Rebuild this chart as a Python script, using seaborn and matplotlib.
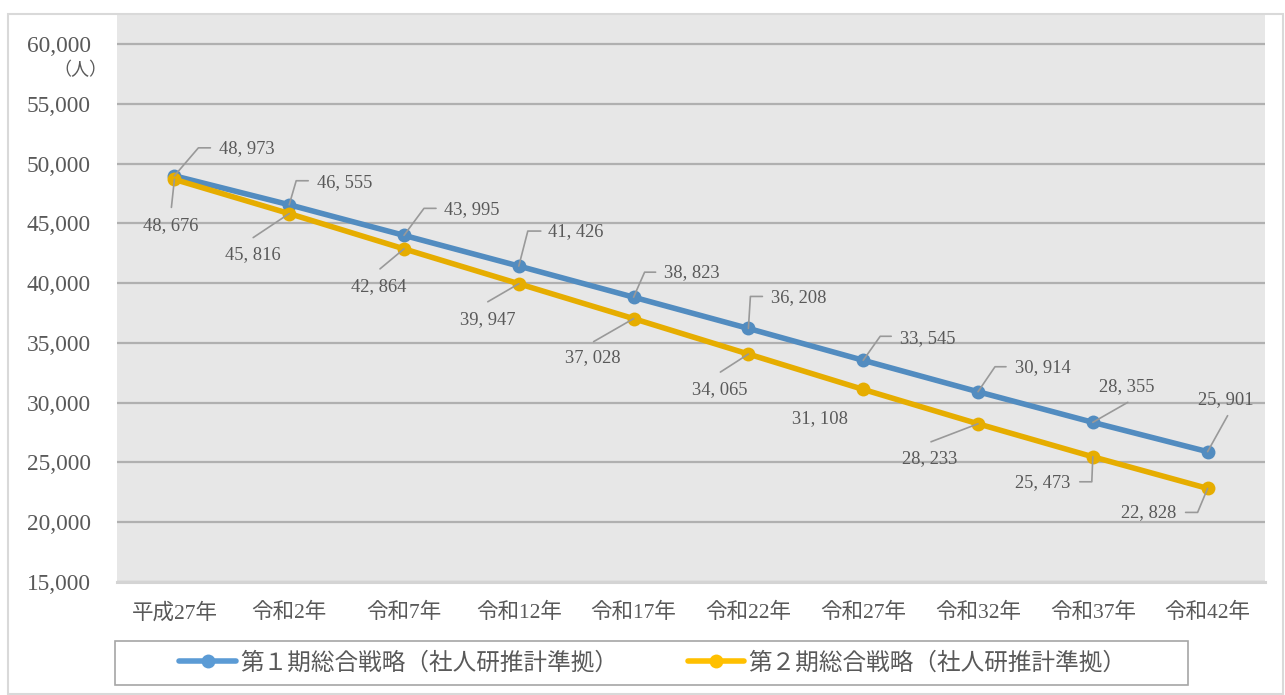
import matplotlib
matplotlib.use("Agg")
import matplotlib.pyplot as plt
from matplotlib.lines import Line2D
from matplotlib.patches import Rectangle
from matplotlib.transforms import IdentityTransform
import numpy as np
import pandas as pd
import seaborn as sns

# ---- data -------------------------------------------------------------
years = ['平成27年', '令和2年', '令和7年', '令和12年', '令和17年',
         '令和22年', '令和27年', '令和32年', '令和37年', '令和42年']
series_names = ['第１期総合戦略（社人研推計準拠）', '第２期総合戦略（社人研推計準拠）']
pop_first = [48973, 46555, 43995, 41426, 38823, 36208, 33545, 30914, 28355, 25901]
pop_second = [48676, 45816, 42864, 39947, 37028, 34065, 31108, 28233, 25473, 22828]
y_ticks = [15000, 20000, 25000, 30000, 35000, 40000, 45000, 50000, 55000, 60000]
unit_label = '（人）'

# ---- label placement (pixel offsets from each point, y pointing down) --
label_offsets_first = [(72, -27), (55, -22), (68, -26), (57, -34), (58, -25),
                       (50, -31), (65, -22), (65, -24), (34, -36), (18, -52)]
leaders_first = [[(0, 0), (24, -28), (36, -28)],
                 [(0, 0), (7, -24), (19, -24)],
                 [(0, 0), (20, -27), (32, -27)],
                 [(0, 0), (9, -35), (22, -35)],
                 [(0, 0), (11, -25), (22, -25)],
                 [(0, 0), (2, -32), (14, -32)],
                 [(0, 0), (17, -24), (28, -24)],
                 [(0, 0), (17, -25), (28, -25)],
                 [(0, 0), (35, -20)],
                 [(0, 0), (20, -36)]]
label_offsets_second = [(-4, 46), (-36, 41), (-25, 38), (-31, 36), (-41, 39),
                        (-29, 36), (-43, 29), (-48, 35), (-50, 26), (-59, 24)]
leaders_second = [[(0, 0), (-3, 28)],
                  [(0, 0), (-36, 24)],
                  [(0, 0), (-24, 20)],
                  [(0, 0), (-31, 18)],
                  [(0, 0), (-40, 23)],
                  [(0, 0), (-28, 18)],
                  None,
                  [(0, 0), (-47, 18)],
                  [(0, 0), (-1, 25), (-13, 25)],
                  [(0, 0), (-10, 24), (-22, 24)]]

# ---- style --------------------------------------------------------------
sns.set_style("white")
plt.rcParams['font.family'] = ['Liberation Serif', 'Noto Sans CJK JP', 'DejaVu Sans']
text_color = '#595959'
line_colors = ['#528cc0', '#e6ad00']      # lines seen through the shaded plot area
legend_colors = ['#5b9bd5', '#ffc000']

W, H = 1285, 695
fig = plt.figure(figsize=(W / 100, H / 100), dpi=100)
ax = fig.add_axes([117 / W, 1 - 582 / H, (1265 - 117) / W, (582 - 15) / H])
ax.set_facecolor('#e7e7e7')

df = pd.DataFrame({
    '年': years * 2,
    '人口': pop_first + pop_second,
    '系列': [series_names[0]] * len(years) + [series_names[1]] * len(years),
})

sns.lineplot(data=df, x='年', y='人口', hue='系列', palette=line_colors,
             marker='o', markersize=10, markeredgewidth=0, linewidth=4,
             sort=False, legend=False, ax=ax, zorder=3)

ax.set_xlim(-0.5, len(years) - 0.5)
ax.set_ylim(15000, 62426)
ax.set_xlabel('')
ax.set_ylabel('')

# y axis
ax.set_yticks(y_ticks)
ax.set_yticklabels([f'{v:,}' for v in y_ticks], fontsize=16.8, color=text_color)
ax.yaxis.grid(True, color='#b0b0b0', linewidth=1.6)
ax.set_axisbelow(True)
ax.tick_params(axis='y', length=0, pad=19)

# x axis: labels at category centres, marks at category boundaries
ax.set_xticks(range(len(years)))
ax.set_xticklabels(years, fontsize=15.5, color=text_color)
ax.set_xticks(np.arange(-0.5, len(years), 1.0), minor=True)
ax.tick_params(axis='x', which='major', length=0, pad=15)
ax.tick_params(axis='x', which='minor', length=6, width=1.5, color='#d4d4d4')
ax.xaxis.grid(False)

for side in ['left', 'right', 'top']:
    ax.spines[side].set_visible(False)
ax.spines['bottom'].set_color('#d4d4d4')
ax.spines['bottom'].set_linewidth(2.2)


def draw_leader(x, y, verts):
    px, py = ax.transData.transform((x, y))
    xs = [px + dx for dx, dy in verts]
    ys = [py - dy for dx, dy in verts]
    ax.add_artist(Line2D(xs, ys, transform=IdentityTransform(),
                         color='#999999', linewidth=1.2, zorder=5))


def fmt(v):
    return f'{v:,}'.replace(',', ', ')


for values, offsets, leaders in [(pop_first, label_offsets_first, leaders_first),
                                 (pop_second, label_offsets_second, leaders_second)]:
    for i, v in enumerate(values):
        dx, dy = offsets[i]
        ax.annotate(fmt(v), xy=(i, v), xytext=(dx, -dy), textcoords='offset pixels',
                    ha='center', va='center', fontsize=13.3, color=text_color, zorder=6)
        if leaders[i] is not None:
            draw_leader(i, v, leaders[i])

# unit label above the y axis
fig.text(80 / W, 1 - 70 / H, unit_label, ha='center', va='center',
         fontsize=13, color=text_color)

# legend
handles = [Line2D([], [], color=c, linewidth=4, marker='o', markersize=10,
                  markeredgewidth=0) for c in legend_colors]
leg = fig.legend(handles, series_names, loc='center', ncol=2,
                 bbox_to_anchor=(653 / W, 1 - 663 / H), frameon=False,
                 fontsize=17, handlelength=2.4, handletextpad=0.17,
                 columnspacing=2.95, borderpad=0)
for t in leg.get_texts():
    t.set_color(text_color)

fig.add_artist(Rectangle((115 / W, 1 - 685 / H), (1188 - 115) / W, 44 / H,
                         transform=fig.transFigure, fill=False,
                         edgecolor='#a6a6a6', linewidth=1.2))

# outer chart border
fig.add_artist(Rectangle((8 / W, 1 - 694 / H), (1283 - 8) / W, (694 - 14) / H,
                         transform=fig.transFigure, fill=False,
                         edgecolor='#d9d9d9', linewidth=1.5))

fig.savefig('out.png', dpi=100)
